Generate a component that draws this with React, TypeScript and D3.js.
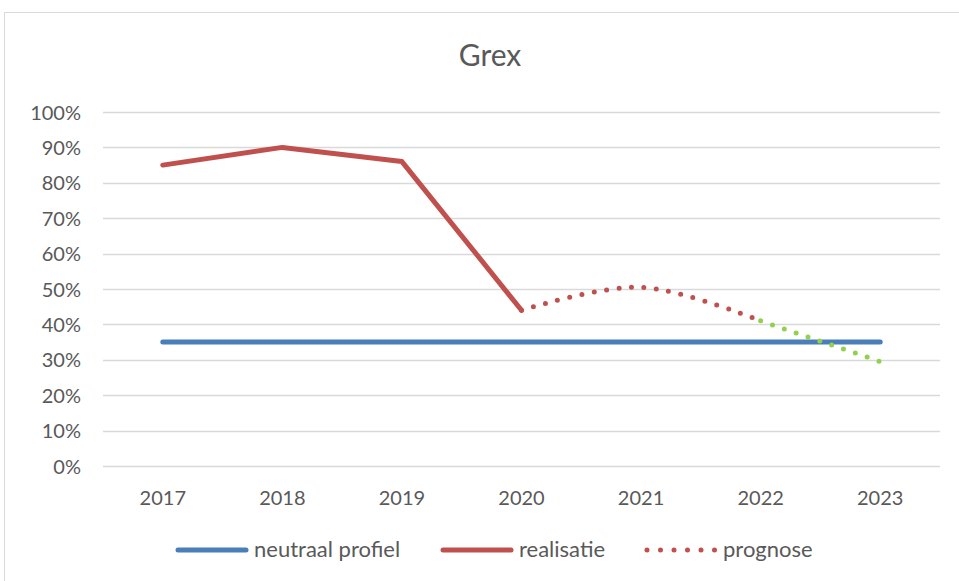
import * as d3 from 'd3';
import React, { useEffect, useRef } from 'react';

const years = ['2017', '2018', '2019', '2020', '2021', '2022', '2023'];
const neutraal = [0.35, 0.35, 0.35, 0.35, 0.35, 0.35, 0.35];
const realisatie = [0.85, 0.9, 0.86, 0.44, null, null, null];
const prognose = [null, null, null, 0.44, 0.505, 0.41, null];
const prognoseGroen = [null, null, null, null, null, 0.41, 0.295];
const yTicks = [0, 0.1, 0.2, 0.3, 0.4, 0.5, 0.6, 0.7, 0.8, 0.9, 1];

const FONT = 'Lato, "Open Sans", sans-serif';
const TXT = '#595959';

export default function App() {
  const ref = useRef<SVGSVGElement>(null);

  useEffect(() => {
    const svg = d3.select(ref.current);
    svg.selectAll('*').remove();

    const margin = { top: 112, left: 103, right: 19, bottom: 115 };
    const W = 959, H = 581;

    svg.append('rect')
      .attr('x', 4.5).attr('y', 12.5)
      .attr('width', 980).attr('height', 600)
      .attr('fill', '#fff').attr('stroke', '#d9d9d9');

    const x = d3.scaleBand().domain(years).range([margin.left, W - margin.right]);
    const y = d3.scaleLinear().domain([0, 1]).range([H - margin.bottom, margin.top]);
    const cx = (i: number) => x(years[i])! + x.bandwidth() / 2;

    svg.append('text')
      .attr('x', 490).attr('y', 66)
      .attr('text-anchor', 'middle')
      .attr('font-family', FONT).attr('font-size', 30).attr('fill', TXT)
      .text('Grex');

    // gridlines + y labels
    const gy = svg.append('g');
    gy.selectAll('line').data(yTicks).enter().append('line')
      .attr('x1', margin.left).attr('x2', W - margin.right)
      .attr('y1', d => Math.round(y(d)) + 0.5).attr('y2', d => Math.round(y(d)) + 0.5)
      .attr('stroke', '#d9d9d9').attr('stroke-width', 1.5);
    gy.selectAll('text').data(yTicks).enter().append('text')
      .attr('x', 81).attr('y', d => y(d) + 7.5)
      .attr('text-anchor', 'end')
      .attr('font-family', FONT).attr('font-size', 20).attr('fill', TXT)
      .text(d => d3.format('.0%')(d));

    // x labels
    svg.append('g').selectAll('text').data(years).enter().append('text')
      .attr('x', (d, i) => cx(i)).attr('y', 505)
      .attr('text-anchor', 'middle')
      .attr('font-family', FONT).attr('font-size', 20).attr('fill', TXT)
      .text(d => d);

    const line = d3.line<number | null>()
      .defined(d => d !== null)
      .x((d, i) => cx(i))
      .y(d => y(d as number));

    svg.append('path').datum(neutraal)
      .attr('d', line).attr('fill', 'none')
      .attr('stroke', '#4a7ebb').attr('stroke-width', 5).attr('stroke-linecap', 'round');

    svg.append('path').datum(realisatie)
      .attr('d', line).attr('fill', 'none')
      .attr('stroke', '#c0504d').attr('stroke-width', 5)
      .attr('stroke-linecap', 'round').attr('stroke-linejoin', 'round');

    svg.append('path').datum(prognose)
      .attr('d', line.curve(d3.curveCatmullRom.alpha(0.5))).attr('fill', 'none')
      .attr('stroke', '#c0504d').attr('stroke-width', 5)
      .attr('stroke-linecap', 'round').attr('stroke-dasharray', '0 12.5');

    svg.append('path').datum(prognoseGroen)
      .attr('d', line.curve(d3.curveLinear)).attr('fill', 'none')
      .attr('stroke', '#92d050').attr('stroke-width', 5)
      .attr('stroke-linecap', 'round').attr('stroke-dasharray', '0 12.5');

    // legend
    const legend = [
      { label: 'neutraal profiel', color: '#4a7ebb', dash: null, x: 178 },
      { label: 'realisatie', color: '#c0504d', dash: null, x: 443 },
      { label: 'prognose', color: '#c0504d', dash: '0 13.5', x: 647 }
    ];
    const lg = svg.append('g');
    legend.forEach(l => {
      lg.append('line')
        .attr('x1', l.x).attr('x2', l.x + 68)
        .attr('y1', 550).attr('y2', 550)
        .attr('stroke', l.color).attr('stroke-width', 5)
        .attr('stroke-linecap', 'round')
        .attr('stroke-dasharray', l.dash);
      lg.append('text')
        .attr('x', l.x + 76).attr('y', 557)
        .attr('font-family', FONT).attr('font-size', 22).attr('fill', TXT)
        .text(l.label);
    });
  }, []);

  return (
    <svg ref={ref} width={959} height={581}
      style={{ position: 'absolute', left: 0, top: 0, background: '#fff' }} />
  );
}
